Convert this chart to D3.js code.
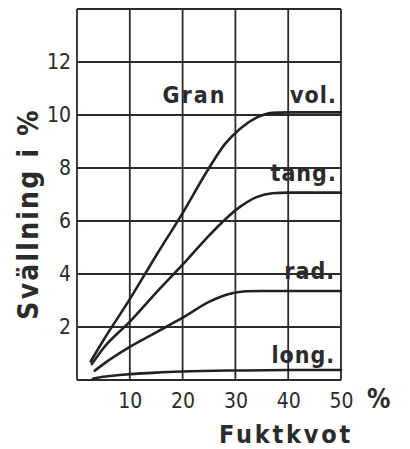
<!DOCTYPE html>
<html>
<head>
<meta charset="utf-8">
<script src="https://cdn.jsdelivr.net/npm/d3@7"></script>
<style>
  body { margin: 0; background: #fff; }
  text { font-family: "DejaVu Sans Condensed", "DejaVu Sans", sans-serif; fill: #2b2b2b; }
</style>
</head>
<body>
<svg id="chart" width="410" height="449"></svg>
<script>
// Fuktkvot (%) and svällning (%)
const volX = [2.6, 5, 10, 15, 20, 25, 28, 31, 34, 37, 40, 50];
const volY = [0.7, 1.5, 3.05, 4.7, 6.3, 8.0, 8.9, 9.5, 9.9, 10.08, 10.1, 10.1];
const tangX = [2.8, 5, 10, 15, 20, 25, 28, 31, 34, 37, 40, 50];
const tangY = [0.6, 1.2, 2.2, 3.3, 4.35, 5.45, 6.05, 6.55, 6.9, 7.05, 7.07, 7.07];
const radX = [3.35, 5, 10, 15, 20, 25, 28, 30, 32, 35, 40, 50];
const radY = [0.35, 0.6, 1.25, 1.8, 2.35, 2.95, 3.2, 3.3, 3.35, 3.36, 3.36, 3.36];
const longX = [3, 5, 10, 15, 20, 30, 40, 50];
const longY = [0.05, 0.12, 0.22, 0.28, 0.32, 0.36, 0.38, 0.38];

const xTicks = [10, 20, 30, 40, 50];
const yTicks = [2, 4, 6, 8, 10, 12];
const seriesNames = ['vol.', 'tang.', 'rad.', 'long.'];
// right end of each label's baseline, in data units
const labelX = [49.2, 49.2, 48.9, 48.9];
const labelY = [10.45, 7.5, 3.8, 0.65];

var svg = d3.select('#chart');
var ink = '#2b2b2b';

var x = d3.scaleLinear().domain([0, 50]).range([77, 341]);
var y = d3.scaleLinear().domain([0, 14]).range([380, 9]);

// grid
var grid = svg.append('g').attr('stroke', ink).attr('stroke-width', 1.8);
grid.selectAll('.vg')
  .data([0].concat(xTicks))
  .enter().append('line')
  .attr('x1', d => x(d)).attr('x2', d => x(d))
  .attr('y1', y(0)).attr('y2', y(14));
grid.selectAll('.hg')
  .data([0].concat(yTicks, [14]))
  .enter().append('line')
  .attr('x1', x(0)).attr('x2', x(50))
  .attr('y1', d => y(d)).attr('y2', d => y(d));

// axes (labels only, lines come from the grid)
var xAxis = svg.append('g')
  .attr('transform', 'translate(0,' + y(0) + ')')
  .call(d3.axisBottom(x).tickValues(xTicks).tickSize(0).tickPadding(13));
xAxis.select('.domain').remove();
xAxis.selectAll('text').attr('font-size', 21).attr('fill', ink)
  .attr('font-family', '"DejaVu Sans Condensed", "DejaVu Sans", sans-serif');

var yAxis = svg.append('g')
  .attr('transform', 'translate(' + x(0) + ',0)')
  .call(d3.axisLeft(y).tickValues(yTicks).tickSize(0).tickPadding(6));
yAxis.select('.domain').remove();
yAxis.selectAll('text').attr('font-size', 21).attr('fill', ink)
  .attr('font-family', '"DejaVu Sans Condensed", "DejaVu Sans", sans-serif');

// curves
var line = d3.line().curve(d3.curveMonotoneX);
var seriesX = [volX, tangX, radX, longX];
var seriesY = [volY, tangY, radY, longY];
svg.append('g').selectAll('path')
  .data(seriesX.map((xs, i) => xs.map((v, j) => [x(v), y(seriesY[i][j])])))
  .enter().append('path')
  .attr('d', line)
  .attr('fill', 'none')
  .attr('stroke', '#222')
  .attr('stroke-width', 2.6)
  .attr('stroke-linecap', 'round');

// curve labels
svg.append('g').selectAll('text')
  .data(seriesNames)
  .enter().append('text')
  .attr('x', (d, i) => x(labelX[i]))
  .attr('y', (d, i) => y(labelY[i]))
  .attr('text-anchor', 'end')
  .attr('font-family', '"DejaVu Sans", sans-serif')
  .attr('font-size', 23)
  .attr('font-weight', 'bold')
  .attr('letter-spacing', 1)
  .text(d => d);

svg.append('text')
  .attr('x', x(16.2)).attr('y', y(10.45))
  .attr('font-family', '"DejaVu Sans", sans-serif')
  .attr('font-size', 23).attr('font-weight', 'bold')
  .attr('letter-spacing', 2)
  .text('Gran');

// axis titles
svg.append('text')
  .attr('x', 367).attr('y', 408)
  .attr('font-size', 26).attr('font-weight', 'bold')
  .text('%');

svg.append('text')
  .attr('x', 286).attr('y', 443)
  .attr('text-anchor', 'middle')
  .attr('font-size', 25).attr('font-weight', 'bold')
  .attr('letter-spacing', 2.8)
  .text('Fuktkvot');

svg.append('text')
  .attr('transform', 'translate(38,214) rotate(-90)')
  .attr('text-anchor', 'middle')
  .attr('font-size', 28).attr('font-weight', 'bold')
  .attr('letter-spacing', 2.2)
  .text('Svällning i %');
</script>
</body>
</html>
